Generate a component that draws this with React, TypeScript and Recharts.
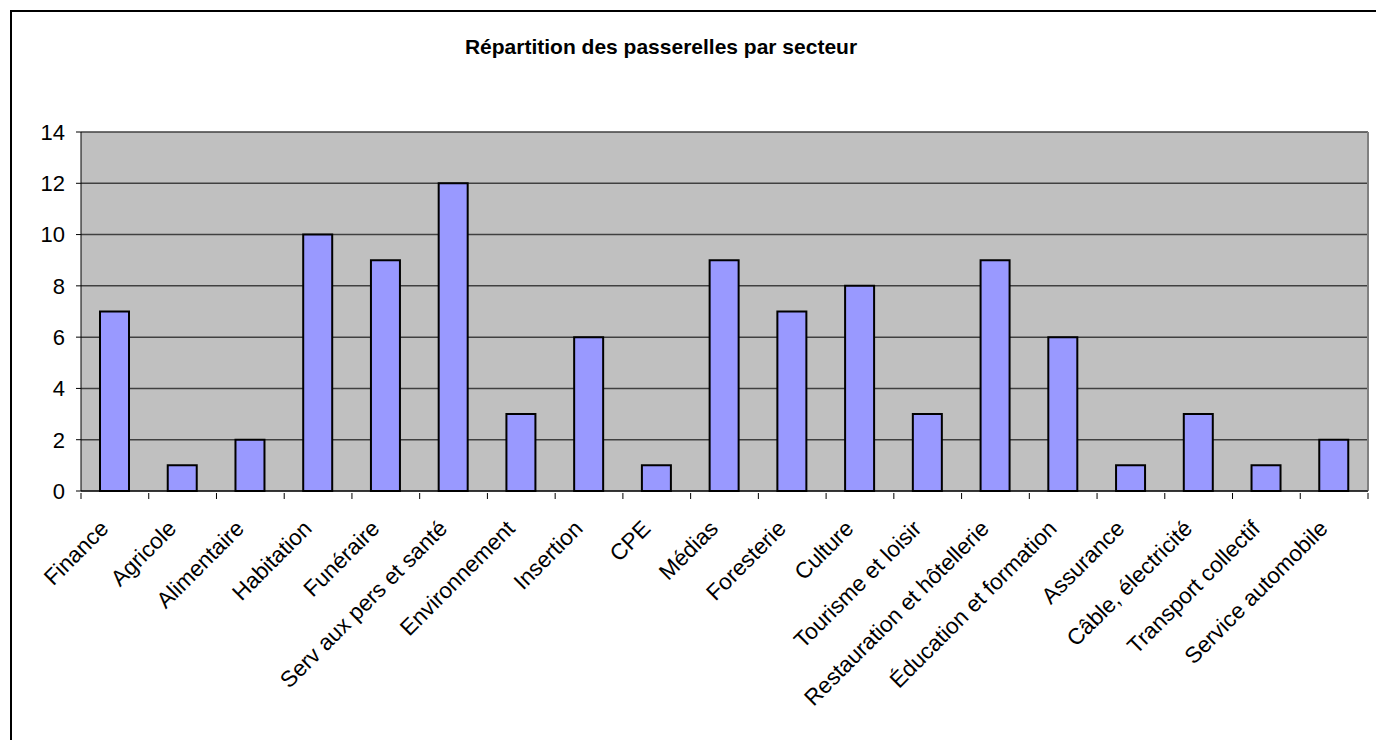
import React from "react";
import { BarChart, Bar, XAxis, YAxis, CartesianGrid } from "recharts";

const sectors = [
  "Finance",
  "Agricole",
  "Alimentaire",
  "Habitation",
  "Funéraire",
  "Serv aux pers et santé",
  "Environnement",
  "Insertion",
  "CPE",
  "Médias",
  "Foresterie",
  "Culture",
  "Tourisme et loisir",
  "Restauration et hôtellerie",
  "Éducation et formation",
  "Assurance",
  "Câble, électricité",
  "Transport collectif",
  "Service automobile",
];

const passerelles = [7, 1, 2, 10, 9, 12, 3, 6, 1, 9, 7, 8, 3, 9, 6, 1, 3, 1, 2];

const yTicks = [0, 2, 4, 6, 8, 10, 12, 14];

const title = "Répartition des passerelles par secteur";

const data = sectors.map((name, i) => ({ name, value: passerelles[i] }));

const FONT = "'Liberation Sans', Arial, sans-serif";
const BAND = (1368 - 81) / sectors.length;

// category label rotated -45deg, with Excel style tick marks between categories
const SectorTick = (props: any) => {
  const { x, y, payload, index } = props;
  const half = payload && payload.offset ? payload.offset : BAND / 2;
  const last = index === sectors.length - 1;
  const ax = x - 5;
  const ay = y + 37;
  return (
    <g>
      <line x1={x - half} y1={y} x2={x - half} y2={y + 6} stroke="#000" />
      {last && <line x1={x + half} y1={y} x2={x + half} y2={y + 6} stroke="#000" />}
      <text
        x={ax}
        y={ay}
        textAnchor="end"
        transform={`rotate(-45, ${ax}, ${ay})`}
        fontFamily={FONT}
        fontSize={22.5}
        fill="#000"
      >
        {payload.value}
      </text>
    </g>
  );
};

const App: React.FC = () => {
  return (
    <div
      style={{
        position: "fixed",
        left: 0,
        top: 0,
        width: 1380,
        height: 740,
        overflow: "hidden",
        background: "#fff",
      }}
    >
      {/* chart area border: top and left edges only, the rest is off the picture */}
      <div
        style={{
          position: "absolute",
          left: 10,
          top: 10,
          width: 1366,
          height: 2,
          background: "#000",
        }}
      />
      <div
        style={{
          position: "absolute",
          left: 10,
          top: 10,
          width: 2,
          height: 730,
          background: "#000",
        }}
      />
      <div
        style={{
          position: "absolute",
          left: 0,
          top: 35,
          width: 1322,
          textAlign: "center",
          fontFamily: FONT,
          fontWeight: "bold",
          fontSize: 21,
          color: "#000",
        }}
      >
        {title}
      </div>
      <div style={{ position: "absolute", left: 0, top: 0 }}>
        <BarChart
          width={1380}
          height={740}
          data={data}
          margin={{ top: 132, right: 12, left: 11, bottom: 9 }}
        >
          <CartesianGrid
            vertical={false}
            fill="#C0C0C0"
            stroke="#404040"
            strokeWidth={1.5}
          />
          <CartesianGrid
            horizontal={false}
            stroke="#808080"
            strokeWidth={2}
            verticalCoordinatesGenerator={({ offset }: any) => [offset.left + offset.width]}
          />
          <XAxis
            dataKey="name"
            interval={0}
            height={240}
            tickSize={0}
            tickLine={false}
            axisLine={{ stroke: "#000" }}
            tick={<SectorTick />}
          />
          <YAxis
            domain={[0, 14]}
            ticks={yTicks}
            width={70}
            tickSize={5}
            tickMargin={11}
            axisLine={{ stroke: "#000" }}
            tickLine={{ stroke: "#000" }}
            tick={{ fill: "#000", fontFamily: FONT, fontSize: 22 }}
          />
          <Bar
            dataKey="value"
            fill="#9999FF"
            stroke="#000"
            strokeWidth={2}
            barSize={29}
            isAnimationActive={false}
          />
        </BarChart>
      </div>
    </div>
  );
};

export default App;
